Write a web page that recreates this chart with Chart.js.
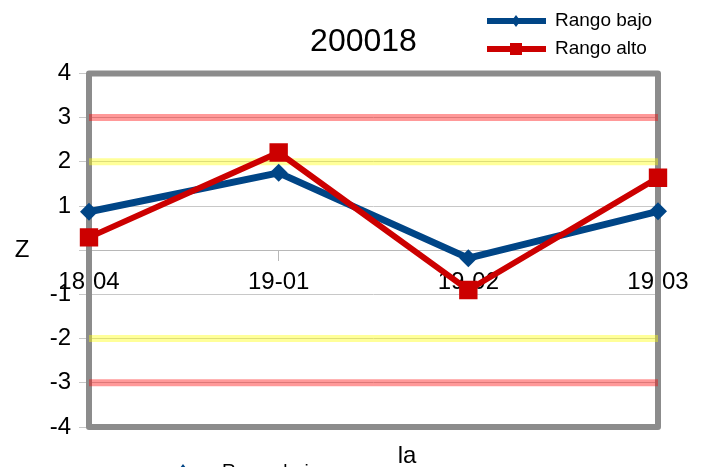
<!DOCTYPE html>
<html>
<head>
<meta charset="utf-8">
<script src="https://cdn.jsdelivr.net/npm/chart.js@4/dist/chart.umd.min.js"></script>
<style>
  html, body { margin: 0; padding: 0; background: #fff; }
  #chart { display: block; }
</style>
</head>
<body>
<canvas id="chart" width="711" height="467"></canvas>
<script>
// chart values
const categories = ['18-04', '19-01', '19-02', '19-03'];
const rangoBajo = [0.87, 1.75, -0.18, 0.88];
const rangoAlto = [0.29, 2.21, -0.9, 1.64];

// reference bands (z = +/-2 and +/-3)
const bandUpper3 = [3, 3, 3, 3];
const bandUpper2 = [2, 2, 2, 2];
const bandLower2 = [-2, -2, -2, -2];
const bandLower3 = [-3, -3, -3, -3];

const FONT = "'Liberation Sans', Arial, sans-serif";
const BLUE = '#004586';
const RED = '#cc0000';

// Draw a small marker for the legend
function drawMarker(ctx, style, x, y, size) {
    ctx.beginPath();
    if (style === 'rectRot') {
        ctx.moveTo(x, y - size);
        ctx.lineTo(x + size * 0.75, y);
        ctx.lineTo(x, y + size);
        ctx.lineTo(x - size * 0.75, y);
        ctx.closePath();
    } else {
        ctx.rect(x - size, y - size, size * 2, size * 2);
    }
    ctx.fill();
}

// Gray frame around the plot area
const framePlugin = {
    id: 'plotFrame',
    beforeDatasetsDraw(chart) {
        const { ctx, chartArea } = chart;
        ctx.save();
        ctx.strokeStyle = '#8c8c8c';
        ctx.lineWidth = 6;
        ctx.lineJoin = 'round';
        ctx.strokeRect(chartArea.left, chartArea.top,
            chartArea.right - chartArea.left, chartArea.bottom - chartArea.top);
        ctx.restore();
    }
};

// Legend at top right (vertical), axis names and the clipped legend at the bottom
const extrasPlugin = {
    id: 'extras',
    afterDraw(chart) {
        const ctx = chart.ctx;
        ctx.save();

        const rows = [
            { ds: chart.data.datasets[1], y: 21, marker: 6 },
            { ds: chart.data.datasets[0], y: 49, marker: 6 }
        ];
        rows.forEach(function(row) {
            ctx.strokeStyle = row.ds.borderColor;
            ctx.fillStyle = row.ds.borderColor;
            ctx.lineWidth = 6;
            ctx.beginPath();
            ctx.moveTo(487, row.y);
            ctx.lineTo(546, row.y);
            ctx.stroke();
            drawMarker(ctx, row.ds.pointStyle, 516, row.y, row.marker);
            ctx.fillStyle = '#000';
            ctx.font = '19px ' + FONT;
            ctx.textAlign = 'left';
            ctx.textBaseline = 'middle';
            ctx.fillText(row.ds.label, 555, row.y);
        });

        // axis names
        ctx.fillStyle = '#000';
        ctx.font = '24px ' + FONT;
        ctx.textAlign = 'center';
        ctx.textBaseline = 'middle';
        ctx.fillText('Z', 22, 250);
        ctx.fillText('la', 407, 456);

        // second legend, mostly cut off by the bottom edge
        ctx.fillStyle = BLUE;
        drawMarker(ctx, 'rectRot', 183, 471, 7);
        ctx.fillStyle = '#000';
        ctx.font = '19px ' + FONT;
        ctx.textAlign = 'left';
        ctx.textBaseline = 'top';
        ctx.fillText('Rango bajo', 222, 462);

        ctx.restore();
    }
};

function bandDataset(values, color) {
    return {
        label: '',
        data: values,
        yAxisID: 'y',
        borderColor: color,
        borderWidth: 7,
        pointRadius: 0,
        pointHoverRadius: 0,
        fill: false,
        order: 2
    };
}

const config = {
    type: 'line',
    data: {
        labels: categories,
        datasets: [
            {
                label: 'Rango alto',
                data: rangoAlto,
                yAxisID: 'y',
                borderColor: RED,
                backgroundColor: RED,
                borderWidth: 6,
                pointStyle: 'rect',
                pointRadius: 13,
                pointBorderWidth: 0,
                tension: 0,
                order: 0
            },
            {
                label: 'Rango bajo',
                data: rangoBajo,
                yAxisID: 'y',
                borderColor: BLUE,
                backgroundColor: BLUE,
                borderWidth: 7,
                pointStyle: 'rectRot',
                pointRadius: 9,
                pointBorderWidth: 0,
                tension: 0,
                order: 1
            },
            bandDataset(bandUpper3, 'rgba(255, 0, 0, 0.4)'),
            bandDataset(bandUpper2, 'rgba(255, 255, 0, 0.4)'),
            bandDataset(bandLower2, 'rgba(255, 255, 0, 0.4)'),
            bandDataset(bandLower3, 'rgba(255, 0, 0, 0.4)')
        ]
    },
    options: {
        responsive: false,
        animation: false,
        devicePixelRatio: 1,
        layout: {
            padding: { left: 16, right: 0, top: 0, bottom: 40 }
        },
        scales: {
            x: {
                type: 'category',
                position: { y: 0 },
                offset: false,
                grid: {
                    drawOnChartArea: false,
                    drawTicks: true,
                    tickLength: 10,
                    color: '#b8b8b8'
                },
                border: { display: true, color: '#b8b8b8', width: 1 },
                ticks: {
                    color: '#000',
                    font: { family: FONT, size: 24 },
                    padding: 8,
                    maxRotation: 0,
                    autoSkip: false
                }
            },
            y: {
                min: -4,
                max: 4,
                position: 'left',
                afterFit: function(scale) { scale.width = 73; },
                grid: { color: '#c8c8c8', tickLength: 10 },
                border: { display: false },
                ticks: {
                    stepSize: 1,
                    color: '#000',
                    font: { family: FONT, size: 24 },
                    padding: 8,
                    // the zero label is left out, the axis name sits there
                    callback: function(value) { return value === 0 ? '' : value; }
                }
            },
            // empty right axis, only reserves space on the right side
            y2: {
                position: 'right',
                afterFit: function(scale) { scale.width = 53; },
                grid: { display: false },
                border: { display: false },
                ticks: { display: false }
            }
        },
        plugins: {
            legend: { display: false },
            tooltip: { enabled: false },
            title: {
                display: true,
                text: '200018',
                color: '#000',
                font: { family: FONT, size: 32, weight: 'normal' },
                padding: { top: 23, bottom: 12 }
            }
        }
    },
    plugins: [framePlugin, extrasPlugin]
};

new Chart(document.getElementById('chart'), config);
</script>
</body>
</html>
